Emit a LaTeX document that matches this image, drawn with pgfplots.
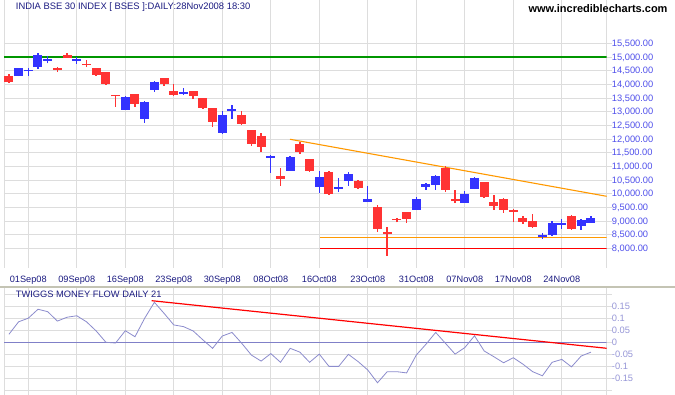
\documentclass[border=0pt]{standalone}
\usepackage{pgfplots}
\pgfplotsset{compat=1.18}
\usepackage{pgfplotstable}
\usepackage{fontspec}
\setmainfont{Liberation Sans}
\definecolor{cblue}{RGB}{51,51,255}
\definecolor{cred}{RGB}{255,51,51}
\definecolor{gridc}{RGB}{221,221,221}
\definecolor{navy}{RGB}{28,28,130}
\definecolor{lblue}{RGB}{80,80,235}
\definecolor{lpurple}{RGB}{150,150,215}
\definecolor{tmfc}{RGB}{140,140,205}
\definecolor{zeroc}{RGB}{128,128,200}
\definecolor{cgreen}{RGB}{0,150,0}
\definecolor{corange}{RGB}{255,153,0}
\definecolor{sepc}{RGB}{196,196,180}

% up (blue) candles: i O H L C
\pgfplotstableread{
i O H L C
1 14315 14610 14300 14597
2 14470 14586 14315 14530
3 14644 15135 14571 15073
4 14860 15036 14769 14920
7 14860 15010 14743 14920
12 13071 13572 13071 13536
14 12742 13389 12595 13353
15 13803 14121 13730 14085
18 13660 13854 13620 13720
22 12229 13024 12193 12877
23 13040 13243 12742 13100
27 11310 11403 10766 11370
29 10839 11377 10839 11341
32 10254 10839 10034 10620
34 10185 10561 10060 10245
35 10473 10802 10279 10718
37 9705 10279 9705 9803
42 9412 9888 9412 9803
43 10254 10400 10133 10353
44 10327 10693 10133 10645
47 9668 10096 9668 9986
48 10170 10620 10160 10572
55 8413 8560 8340 8486
56 8486 8999 8450 8926
57 8870 9072 8717 8930
59 8816 9072 8670 9035
60 8926 9181 8926 9108
}\upc

% down (red) candles: i O H L C
\pgfplotstableread{
i O H L C
0 14315 14377 14059 14096
5 14597 14645 14461 14524
6 15073 15135 14963 14963
8 14760 14890 14645 14700
9 14597 14597 14315 14352
10 14450 14460 13986 14022
11 13620 13625 13181 13560
13 13646 13646 13181 13290
16 14231 14231 13949 14022
17 13755 14011 13583 13620
19 13755 13755 13474 13583
20 13499 13499 13097 13144
21 13133 13133 12449 12632
24 12877 13024 12522 12559
25 12328 12328 11754 11827
26 12109 12229 11534 11717
28 10645 10927 10279 10546
30 11816 11900 11450 11523
31 11267 11267 10802 10839
33 10802 10828 9961 9998
36 10462 10498 10170 10206
38 9511 9573 8608 8706
39 8596 8790 7729 8534
40 9080 9090 8951 9030
41 9328 9328 8936 9083
45 10938 11011 10060 10133
46 9785 10133 9668 9725
49 10425 10430 9851 9888
50 9705 9950 9401 9559
51 9803 9851 9302 9412
52 9401 9438 8973 9339
53 9108 9181 8889 8962
54 8999 9255 8743 8779
58 9181 9218 8670 8706
}\downc

% Twiggs money flow
\pgfplotstableread{
i v
0 0.033
1 0.085
2 0.100
3 0.137
4 0.127
5 0.088
6 0.104
7 0.110
8 0.085
9 0.047
10 0.000
11 -0.003
12 0.048
13 0.023
14 0.100
15 0.166
16 0.120
17 0.072
18 0.065
19 0.047
20 0.010
21 -0.025
22 0.026
23 0.041
24 -0.004
25 -0.053
26 -0.078
27 -0.047
28 -0.083
29 -0.025
30 -0.041
31 -0.083
32 -0.049
33 -0.100
34 -0.100
35 -0.050
36 -0.080
37 -0.115
38 -0.168
39 -0.122
40 -0.122
41 -0.127
42 -0.053
43 -0.008
44 0.041
45 -0.004
46 -0.049
47 -0.022
48 0.027
49 -0.036
50 -0.060
51 -0.085
52 -0.064
53 -0.091
54 -0.122
55 -0.139
56 -0.083
57 -0.071
58 -0.102
59 -0.057
60 -0.041
}\tmftab

\pgfplotsset{
  panel/.style={
    scale only axis, width=602.7pt,
    xmin=-0.505, xmax=61.63,
    axis line style={draw=none},
    xtick={2,7,...,57},
    grid=major,
    major grid style={gridc, line width=0.8pt},
    xtick style={draw=none},
    ytick pos=right, yticklabel pos=right,
    ytick style={gridc, line width=0.8pt},
    tick align=outside, major tick length=5pt,
    extra x ticks={-0.505,61.63},
    extra x tick labels={},
    extra x tick style={grid=major, xtick style={draw=none}},
    /pgf/number format/assume math mode=true,
  },
  candle/.style 2 args={draw=none, mark=none,
    error bars/.cd, y dir=plus, y explicit, error mark=none,
    error bar style={draw=#1, line width=#2}},
}

\begin{document}
\begin{tikzpicture}
\path[use as bounding box, fill=white] (0pt,0pt) rectangle (675pt,395pt);

% ---------- upper panel ----------
\begin{axis}[panel,
  at={(4pt,127pt)}, anchor=south west, height=268pt,
  ymin=7279, ymax=17084,
  xticklabels={01Sep08,09Sep08,16Sep08,23Sep08,30Sep08,08Oct08,16Oct08,23Oct08,31Oct08,07Nov08,17Nov08,24Nov08},
  xticklabel style={anchor=base, inner sep=0pt, yshift=-10pt,
    font=\fontsize{9.2}{11}\selectfont, text=navy},
  ytick={8000,8500,9000,9500,10000,10500,11000,11500,12000,12500,13000,13500,14000,14500,15000,15500},
  yticklabels={{8,000.00},{8,500.00},{9,000.00},{9,500.00},{10,000.00},{10,500.00},{11,000.00},{11,500.00},{12,000.00},{12,500.00},{13,000.00},{13,500.00},{14,000.00},{14,500.00},{15,000.00},{15,500.00}},
  yticklabel style={anchor=base west, inner sep=0pt, yshift=-3.3pt,
    font=\fontsize{9.3}{11}\selectfont, text=lblue},
]
\addplot[cgreen, line width=1.1pt] coordinates {(-0.505,15000) (61.63,15000)};
\addplot[corange, line width=1.1pt] coordinates {(28.98,11988) (61.63,9902)};
\addplot[corange, line width=1.1pt] coordinates {(32.07,8402) (61.63,8402)};
\addplot[red, line width=1.1pt] coordinates {(32.07,8000) (61.63,8000)};

% wicks
\addplot[candle={cblue}{1.4pt}]
  table[x=i, y=L, y error expr=\thisrow{H}-\thisrow{L}] {\upc};
\addplot[candle={cred}{1.4pt}]
  table[x=i, y=L, y error expr=\thisrow{H}-\thisrow{L}] {\downc};
% bodies
\addplot[candle={cblue}{9pt}]
  table[x=i, y=O, y error expr=\thisrow{C}-\thisrow{O}] {\upc};
\addplot[candle={cred}{9pt}]
  table[x=i, y=C, y error expr=\thisrow{O}-\thisrow{C}] {\downc};
\end{axis}

% ---------- lower panel ----------
\begin{axis}[panel,
  at={(4pt,0pt)}, anchor=south west, height=107pt,
  ymin=-0.2187, ymax=0.2253,
  xticklabels={},
  ytick={-0.2,-0.15,-0.1,-0.05,0,0.05,0.1,0.15,0.2},
  yticklabels={,-0.15,-0.1,-0.05,0,0.05,0.1,0.15,},
  yticklabel style={anchor=base west, inner sep=0pt, yshift=-3.3pt,
    font=\fontsize{9.3}{11}\selectfont, text=lpurple},
]
\addplot[zeroc, line width=0.9pt] coordinates {(-0.505,0) (61.63,0)};
\addplot[tmfc, line width=0.8pt] table[x=i, y=v] {\tmftab};
\addplot[red, line width=1.2pt] coordinates {(14.72,0.1726) (61.63,-0.0249)};
\end{axis}

% separator and texts
\draw[sepc, line width=1.6pt] (0pt,107.8pt) -- (675pt,107.8pt);
\node[anchor=base west, inner sep=0pt, text=navy, font=\fontsize{9.4}{11}\selectfont]
  at (15.7pt,385pt) {INDIA BSE 30 INDEX [ BSES ]:DAILY:28Nov2008 18:30};
\node[anchor=base east, inner sep=0pt, text=black, font=\bfseries\fontsize{11}{13}\selectfont]
  at (667.7pt,382pt) {www.incrediblecharts.com};
\node[anchor=base west, inner sep=0pt, text=navy, font=\fontsize{9.3}{11}\selectfont]
  at (15.7pt,97.7pt) {TWIGGS MONEY FLOW DAILY 21};
\end{tikzpicture}
\end{document}
